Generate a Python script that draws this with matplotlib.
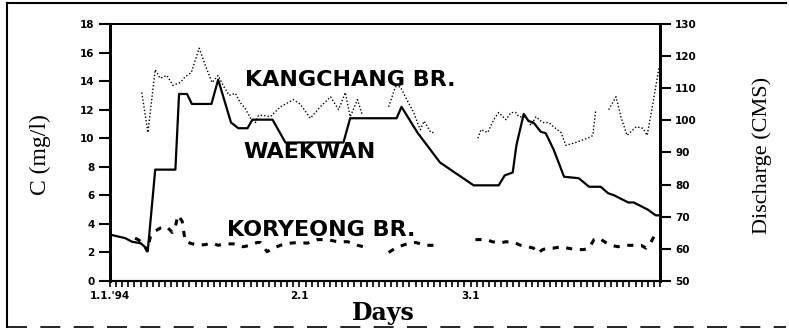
import numpy as np
import matplotlib
matplotlib.use("Agg")
import matplotlib.pyplot as plt
from matplotlib.lines import Line2D

nan = np.nan

# Waekwan (solid)
waekwan_day = [0, 2.5, 3.6, 5, 6.2, 7.4, 10.7, 11.3, 12.6, 13.4, 16.6, 17.7, 19.8, 21, 22.5,
               23.3, 26.6, 28.7, 38.2, 39.3, 46.9, 47.7, 50.3, 54, 59.5, 63.6, 64.6, 65.9,
               66.5, 67.7, 68.5, 69.3, 70.5, 71.3, 72.6, 74.3, 76.7, 78.4, 80.3, 81.5, 82.5,
               84.8, 85.7, 88, 89.3, 90]
waekwan_c = [3.25, 3.0, 2.75, 2.65, 2.2, 7.8, 7.8, 13.1, 13.1, 12.4, 12.4, 14.1, 11.1, 10.7, 10.7,
             11.3, 11.3, 9.7, 9.7, 11.4, 11.4, 12.2, 10.4, 8.3, 6.7, 6.7, 7.4, 7.6,
             9.5, 11.7, 11.2, 11.1, 10.45, 10.35, 9.2, 7.3, 7.2, 6.6, 6.6, 6.15, 6.0,
             5.5, 5.5, 5.0, 4.6, 4.6]

# Kangchang Br. (dotted, gaps are missing days)
kang_day = [5.2, 6.2, 7.4, 8.2, 9.3, 10.3, 11.5, 12.3, 13.3, 14.6, 15.6, 16.7, 17.7, 18.5, 19.5,
            20.5, 21.3, 22.1, 23.0, 23.8, 24.3, 25.1, 26.2, 27.9, 30.0, 31.1, 32.8, 34.4, 36.1,
            37.4, 38.5, 39.3, 40.5, 41.3, 43.0,
            45.6, 46.7, 47.5, 48.7, 49.7, 50.3, 50.8, 51.4, 52.5, 53.3, 56.0,
            60.2, 60.7, 61.8, 62.8, 63.6, 64.8, 65.6, 66.4, 66.9, 68.0, 68.9, 69.7, 70.8, 71.8,
            72.6, 73.8, 74.6, 76.2, 77.5, 78.7, 79.0, 79.5, 80.5,
            81.6, 82.8, 83.6, 84.6, 86.1, 87.2, 87.9, 88.7, 89.7, 89.8]
kang_c = [13.2, 10.4, 14.8, 14.2, 14.4, 13.7, 13.9, 14.3, 14.6, 16.3, 15.1, 13.9, 14.4, 13.7, 13.0,
          13.15, 12.5, 12.1, 11.4, 11.1, 11.6, 11.6, 11.5, 12.2, 12.7, 12.4, 11.4, 12.2, 12.9,
          12.0, 13.2, 11.5, 12.7, 11.6, nan,
          12.2, 13.6, 13.6, 12.6, 11.8, 11.1, 10.6, 11.2, 10.4, 10.4, nan,
          10.0, 10.6, 10.4, 11.3, 11.8, 11.3, 11.8, 11.8, 11.5, 11.5, 10.9, 11.5, 11.1, 11.1,
          10.8, 10.4, 9.5, 9.7, 9.9, 10.1, 10.2, 12.0, nan,
          12.0, 12.9, 11.5, 10.2, 10.8, 10.7, 10.2, 12.1, 14.6, 14.9]

# Koryeong Br. (dashed)
kor_day = [4.1, 4.6, 5.4, 6.1, 6.6, 7.4, 8.2, 9.3, 10.2, 10.7, 11.1, 11.8, 12.3, 13.1, 14.4,
           15.6, 16.7, 17.7, 18.9, 20.2, 21.0, 21.8, 23.0, 24.1, 24.6, 25.7, 26.7, 27.9, 29.5,
           30.8, 32.3, 33.9, 35.6, 37.2, 38.9, 40.5, 41.5, 43.0,
           45.6, 46.7, 47.9, 48.9, 50.0, 51.6, 53.6, 56.0,
           59.8, 61.5, 62.6, 63.6, 64.8, 66.1, 67.2, 68.4, 69.3, 70.0, 70.8, 71.6, 72.6, 73.8,
           74.9, 76.2, 77.5, 78.4, 79.2, 80.0, 81.1, 82.0, 83.1, 84.4, 85.6, 86.9, 87.7, 88.5, 89.0]
kor_c = [3.0, 2.9, 2.65, 2.1, 3.1, 3.5, 3.7, 3.8, 3.4, 3.8, 4.6, 4.2, 2.8, 2.65, 2.5,
         2.55, 2.65, 2.5, 2.6, 2.6, 2.5, 2.4, 2.5, 2.7, 2.7, 2.05, 2.3, 2.5, 2.65,
         2.7, 2.65, 2.9, 2.9, 2.75, 2.75, 2.5, 2.4, nan,
         2.0, 2.3, 2.5, 2.65, 2.7, 2.5, 2.5, nan,
         2.9, 2.9, 2.75, 2.65, 2.75, 2.7, 2.5, 2.4, 2.3, 1.95, 2.2, 2.3, 2.3, 2.4,
         2.3, 2.2, 2.2, 2.3, 2.9, 3.0, 2.7, 2.5, 2.4, 2.5, 2.5, 2.5, 2.3, 2.7, 3.1]

month_ticks = [0, 31, 59]
month_labels = ["1.1.'94", "2.1", "3.1"]

fig = plt.figure(figsize=(7.89, 3.30), dpi=100)
ax = fig.add_axes([110 / 789, 1 - 281 / 330, 550 / 789, 257 / 330])

ax.plot(waekwan_day, waekwan_c, color="black", lw=1.6)
ax.plot(kang_day, kang_c, color="black", lw=1.0, ls=(0, (1, 1.5)))
ax.plot(kor_day, kor_c, color="black", lw=2.2, ls=(0, (2, 2.5)))

ax.set_xlim(0, 90)
ax.set_ylim(0, 18)
ax.set_yticks(range(0, 19, 2))
ax.set_xticks(month_ticks)
ax.set_xticklabels(month_labels)
ax.set_xticks(np.arange(0, 91, 1), minor=True)
ax.tick_params(axis="y", direction="out", length=8, width=1.5, labelsize=7.5, pad=3)
ax.tick_params(axis="x", which="both", direction="out", length=4, width=1.2, labelsize=7.5, pad=3)
for lab in ax.get_xticklabels() + ax.get_yticklabels():
    lab.set_fontweight("bold")

ax2 = ax.twinx()
ax2.set_ylim(50, 130)
ax2.set_yticks(range(50, 131, 10))
ax2.tick_params(axis="y", direction="out", length=8, width=1.5, labelsize=7.5, pad=3)
for lab in ax2.get_yticklabels():
    lab.set_fontweight("bold")

for a in (ax, ax2):
    a.spines["left"].set_linewidth(2)
    a.spines["right"].set_linewidth(2)
    a.spines["bottom"].set_linewidth(1.5)
    a.spines["top"].set_linewidth(1.3)

lbl = dict(fontsize=16, fontweight="semibold", family="DejaVu Sans", va="center")
ax.text(22.1, 14.1, "KANGCHANG BR.", **lbl)
ax.text(21.8, 9.0, "WAEKWAN", **lbl)
ax.text(19.2, 3.6, "KORYEONG BR.", **lbl)

fig.text(40 / 789, 1 - 155 / 330, "C (mg/l)", rotation=90, ha="center", va="center",
         family="Liberation Serif", fontsize=17)
fig.text(762 / 789, 1 - 155 / 330, "Discharge (CMS)", rotation=90, ha="center", va="center",
         family="Liberation Serif", fontsize=16)
fig.text(383 / 789, 1 - 313 / 330, "Days", ha="center", va="center",
         family="DejaVu Serif", fontweight="bold", fontsize=17)

# outer frame
fig.add_artist(Line2D([7 / 789, 7 / 789], [3 / 330, 327 / 330], color="black", lw=1.5,
                      transform=fig.transFigure))
fig.add_artist(Line2D([7 / 789, 786 / 789], [327 / 330, 327 / 330], color="black", lw=1.5,
                      transform=fig.transFigure))
fig.add_artist(Line2D([7 / 789, 786 / 789], [3 / 330, 3 / 330], color="black", lw=1.2,
                      ls=(0, (12, 8)), transform=fig.transFigure))

fig.savefig("out.png", dpi=100)
